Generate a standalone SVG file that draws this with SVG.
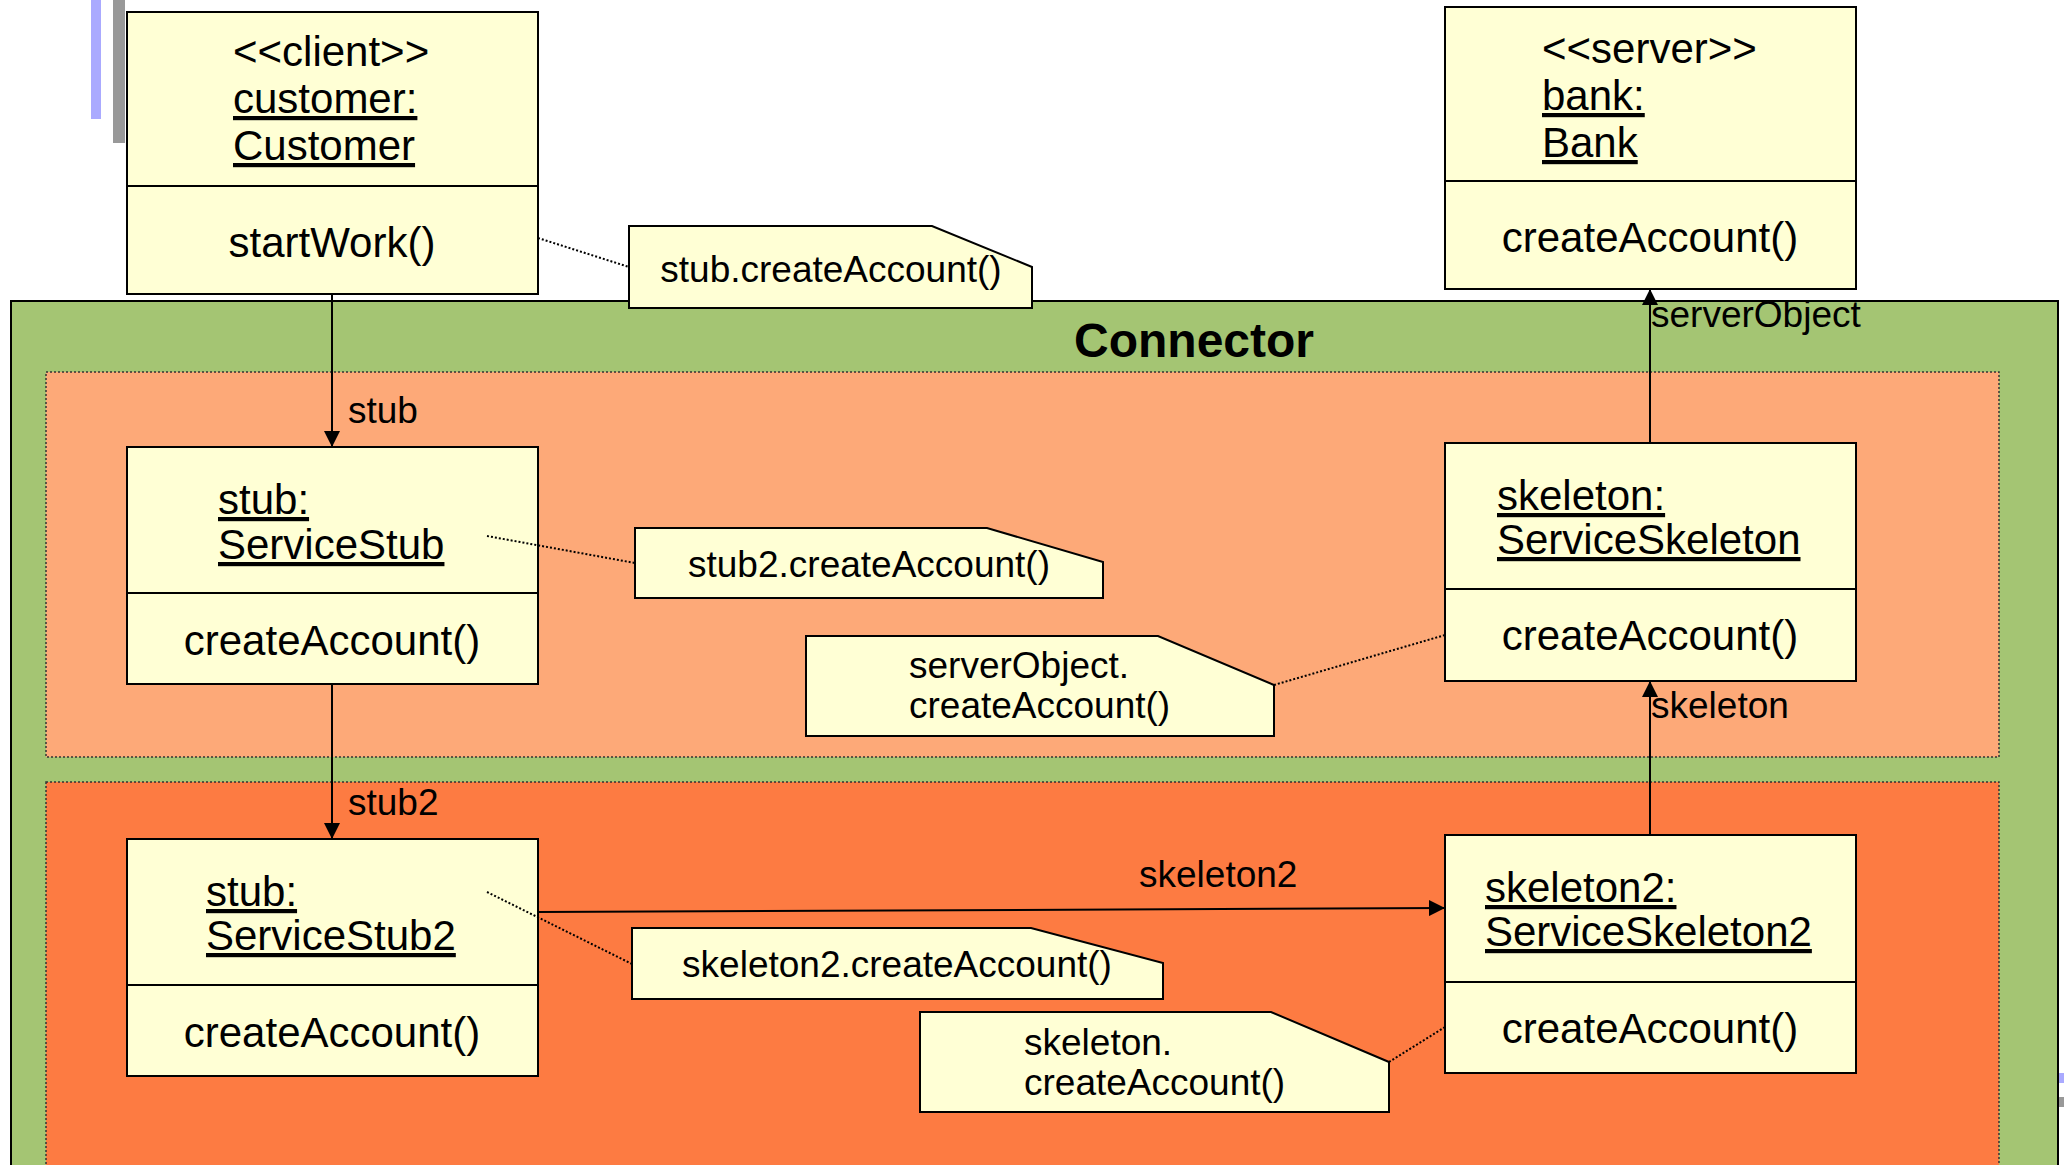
<svg xmlns="http://www.w3.org/2000/svg" width="2064" height="1165" viewBox="0 0 2064 1165">
  <style>
    .box { fill: #FFFFD5; stroke: #000; stroke-width: 2; }
    .note { fill: #FFFFD5; stroke: #000; stroke-width: 2; stroke-linejoin: miter; }
    .t { font-family: "Liberation Sans", Arial, sans-serif; fill: #000; }
    .big { font-size: 42px; }
    .small { font-size: 37px; }
    .u { text-decoration: underline; }
    .mid { text-anchor: middle; }
    .assoc { stroke: #000; stroke-width: 2; fill: none; }
    .dot { stroke: #000; stroke-width: 2; stroke-dasharray: 2 2; fill: none; }
    .zone { stroke: #333; stroke-width: 1.5; stroke-dasharray: 2 2; }
  </style>
  <defs>
    <marker id="arrow" markerUnits="userSpaceOnUse" markerWidth="16" markerHeight="16" viewBox="0 0 16 16" refX="16" refY="8" orient="auto">
      <path d="M0,0 L16,8 L0,16 Z" fill="#000"/>
    </marker>
  </defs>

  <rect width="2064" height="1165" fill="#fff"/>

  <!-- slide decorations -->
  <rect x="91" y="0" width="10" height="119" fill="#AAAAFF"/>
  <rect x="113" y="0" width="12" height="143" fill="#999999"/>
  <rect x="2059" y="1073" width="5" height="10" fill="#AAAAFF"/>
  <rect x="2059" y="1097" width="5" height="10" fill="#999999"/>

  <!-- Connector container -->
  <g id="connector">
    <rect x="11" y="301" width="2047" height="880" fill="#A4C573" stroke="#000" stroke-width="2"/>
    <text class="t" x="1074" y="357" font-size="48" font-weight="bold">Connector</text>
  </g>
  <g id="zone1">
    <rect class="zone" x="46" y="372" width="1953" height="385" fill="#FDA978"/>
  </g>
  <g id="zone2">
    <rect class="zone" x="46" y="782" width="1953" height="400" fill="#FD7B42"/>
  </g>

  <!-- client -->
  <g id="customer">
    <rect class="box" x="127" y="12" width="411" height="282"/>
    <line class="assoc" x1="127" y1="186" x2="538" y2="186"/>
    <text class="t big" x="233" y="66">&lt;&lt;client&gt;&gt;</text>
    <text class="t big u" x="233" y="113">customer:</text>
    <text class="t big u" x="233" y="160">Customer</text>
    <text class="t big mid" x="332" y="257">startWork()</text>
  </g>

  <!-- server -->
  <g id="bank">
    <rect class="box" x="1445" y="7" width="411" height="282"/>
    <line class="assoc" x1="1445" y1="181" x2="1856" y2="181"/>
    <text class="t big" x="1542" y="63">&lt;&lt;server&gt;&gt;</text>
    <text class="t big u" x="1542" y="110">bank:</text>
    <text class="t big u" x="1542" y="157">Bank</text>
    <text class="t big mid" x="1650" y="252">createAccount()</text>
  </g>

  <g id="note1">
    <polygon class="note" points="629,226 932,226 1032,267 1032,308 629,308"/>
    <text class="t small mid" x="831" y="282">stub.createAccount()</text>
  </g>

  <g id="stub">
    <rect class="box" x="127" y="447" width="411" height="237"/>
    <line class="assoc" x1="127" y1="593" x2="538" y2="593"/>
    <text class="t big u" x="218" y="514">stub:</text>
    <text class="t big u" x="218" y="559">ServiceStub</text>
    <text class="t big mid" x="332" y="655">createAccount()</text>
  </g>

  <g id="note2">
    <polygon class="note" points="635,528 987,528 1103,562 1103,598 635,598"/>
    <text class="t small mid" x="869" y="577">stub2.createAccount()</text>
  </g>

  <g id="skeleton">
    <rect class="box" x="1445" y="443" width="411" height="238"/>
    <line class="assoc" x1="1445" y1="589" x2="1856" y2="589"/>
    <text class="t big u" x="1497" y="510">skeleton:</text>
    <text class="t big u" x="1497" y="554">ServiceSkeleton</text>
    <text class="t big mid" x="1650" y="650">createAccount()</text>
  </g>

  <g id="note3">
    <polygon class="note" points="806,636 1158,636 1274,685 1274,736 806,736"/>
    <text class="t small" x="909" y="678">serverObject.</text>
    <text class="t small" x="909" y="718">createAccount()</text>
  </g>

  <g id="stub2">
    <rect class="box" x="127" y="839" width="411" height="237"/>
    <line class="assoc" x1="127" y1="985" x2="538" y2="985"/>
    <text class="t big u" x="206" y="906">stub:</text>
    <text class="t big u" x="206" y="950">ServiceStub2</text>
    <text class="t big mid" x="332" y="1047">createAccount()</text>
  </g>

  <g id="note4">
    <polygon class="note" points="632,928 1031,928 1163,963 1163,999 632,999"/>
    <text class="t small mid" x="897" y="977">skeleton2.createAccount()</text>
  </g>

  <g id="skeleton2">
    <rect class="box" x="1445" y="835" width="411" height="238"/>
    <line class="assoc" x1="1445" y1="982" x2="1856" y2="982"/>
    <text class="t big u" x="1485" y="902">skeleton2:</text>
    <text class="t big u" x="1485" y="946">ServiceSkeleton2</text>
    <text class="t big mid" x="1650" y="1043">createAccount()</text>
  </g>

  <g id="note5">
    <polygon class="note" points="920,1012 1271,1012 1389,1062 1389,1112 920,1112"/>
    <text class="t small" x="1024" y="1055">skeleton.</text>
    <text class="t small" x="1024" y="1095">createAccount()</text>
  </g>

  <!-- connectors -->
  <g id="connectors">
    <line class="assoc" x1="332" y1="294" x2="332" y2="447" marker-end="url(#arrow)"/>
    <line class="assoc" x1="332" y1="684" x2="332" y2="839" marker-end="url(#arrow)"/>
    <line class="assoc" x1="538" y1="912" x2="1445" y2="908" marker-end="url(#arrow)"/>
    <line class="assoc" x1="1650" y1="835" x2="1650" y2="681" marker-end="url(#arrow)"/>
    <line class="assoc" x1="1650" y1="443" x2="1650" y2="289" marker-end="url(#arrow)"/>
    <line class="dot" x1="538" y1="238" x2="629" y2="267"/>
    <line class="dot" x1="487" y1="536" x2="635" y2="563"/>
    <line class="dot" x1="1274" y1="685" x2="1445" y2="635"/>
    <line class="dot" x1="487" y1="892" x2="632" y2="964"/>
    <line class="dot" x1="1389" y1="1062" x2="1445" y2="1027"/>
    <text class="t small" x="348" y="423">stub</text>
    <text class="t small" x="348" y="815">stub2</text>
    <text class="t small" x="1139" y="887">skeleton2</text>
    <text class="t small" x="1651" y="327">serverObject</text>
    <text class="t small" x="1651" y="718">skeleton</text>
  </g>
</svg>
